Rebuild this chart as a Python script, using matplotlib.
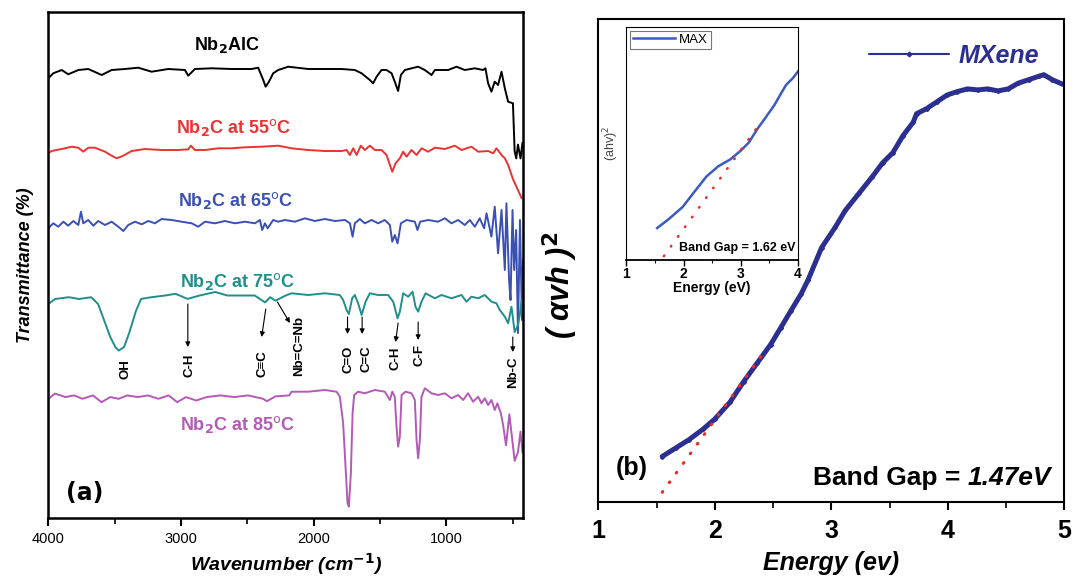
import numpy as np
import matplotlib
matplotlib.use("Agg")
import matplotlib.pyplot as plt

plt.rcParams['font.family'] = ['Liberation Sans', 'DejaVu Sans']

# ---- (a) FTIR spectra: wavenumber (cm-1) vs transmittance (arb. units, stacked) ----
wn_alc = [3999, 3962, 3898, 3849, 3773, 3698, 3597, 3522, 3422, 3322, 3221, 3096, 2970, 2945,
          2895, 2769, 2618, 2468, 2418, 2380, 2362, 2337, 2305, 2267, 2192, 2041, 1790, 1690,
          1639, 1577, 1552, 1526, 1489, 1451, 1413, 1389, 1364, 1343, 1313, 1263, 1213, 1163,
          1112, 1087, 987, 924, 862, 786, 724, 706, 686, 661, 636, 611, 585, 560, 535, 499,
          486, 474, 461, 442, 427]
t_alc = [439.7, 444.7, 448, 443.7, 448, 449, 443, 448, 449, 450.3, 446.3, 449, 448, 442.3,
         449, 449.7, 449, 449, 450.3, 438, 431.3, 436.3, 444.7, 448, 451.3, 449, 449, 448,
         444.7, 438, 434.7, 441.3, 448, 448, 444.7, 436.3, 427, 443, 448, 449.7, 451.3, 448,
         443, 448, 448, 451.3, 448, 449.7, 448, 449.7, 434.7, 426.3, 436.3, 433, 446.3, 429.7,
         416.3, 414.7, 366.5, 359.6, 373.4, 359.6, 375]

wn_55 = [4000, 3974, 3898, 3823, 3773, 3736, 3698, 3648, 3572, 3522, 3484, 3434, 3371, 3271,
         3145, 3020, 2945, 2925, 2895, 2819, 2719, 2618, 2518, 2392, 2267, 2167, 2041, 1916,
         1790, 1752, 1727, 1702, 1677, 1645, 1615, 1577, 1539, 1489, 1451, 1426, 1408, 1383,
         1351, 1326, 1300, 1263, 1225, 1187, 1138, 1087, 1012, 937, 886, 811, 761, 686, 648,
         623, 585, 560, 535, 499, 434]
t_55 = [364.7, 367, 369, 371.3, 370.3, 366.3, 370.3, 370.3, 366.3, 362.3, 359.7, 362.3, 367,
        369, 368, 368, 368.7, 372.3, 368, 368, 369.7, 369.7, 370.7, 371.3, 372.3, 369.7, 368,
        367, 367, 368, 363, 369.7, 363, 372.3, 368, 372.3, 368, 368, 363, 353, 346.3, 354.7,
        359.7, 366.3, 361.3, 368, 363, 369.7, 366.3, 370.3, 369, 372.3, 368, 371.3, 366.3,
        367, 364.7, 369.7, 363, 359.7, 353, 339, 320]

wn_65 = [4000, 3962, 3924, 3886, 3849, 3811, 3773, 3753, 3736, 3698, 3660, 3623, 3572, 3522,
         3472, 3434, 3397, 3346, 3296, 3246, 3196, 3145, 3070, 2995, 2919, 2870, 2819, 2744,
         2669, 2593, 2518, 2443, 2405, 2388, 2367, 2347, 2305, 2267, 2217, 2142, 2066, 1991,
         1916, 1840, 1765, 1727, 1707, 1690, 1652, 1615, 1564, 1514, 1464, 1426, 1408, 1389,
         1368, 1343, 1300, 1238, 1218, 1198, 1138, 1063, 1012, 962, 912, 862, 824, 786, 749,
         716, 698, 661, 636, 611, 585, 560, 548, 528, 517, 502, 490, 475, 461, 446, 431, 423]
t_65 = [289.7, 294.7, 291.3, 296.3, 292.3, 297, 293, 306.3, 294.7, 298, 292.3, 297, 293,
        296.3, 291.3, 287, 293, 296.3, 293.7, 297, 294.7, 299, 298, 296.3, 294.7, 291.3, 296.3,
        294.7, 297, 294.7, 296.3, 294.7, 298, 288, 294.7, 289.7, 298, 296.3, 298, 296.3, 299.7,
        297, 299, 297, 298, 294.7, 281.3, 294.7, 299, 294.7, 298, 294.7, 298, 293, 276.3, 283,
        274.7, 294.7, 298, 296.3, 288, 296.3, 298, 296.3, 299.7, 294.7, 298, 293, 298, 291.3,
        299.7, 289.7, 304.7, 281.3, 311.3, 264.7, 308, 248, 314.7, 238, 218, 308, 248, 288,
        185, 298, 198, 258]

wn_75 = [4000, 3948, 3844, 3767, 3676, 3624, 3585, 3533, 3494, 3468, 3429, 3391, 3339, 3300,
         3222, 3118, 3041, 2950, 2859, 2742, 2651, 2548, 2444, 2366, 2328, 2288, 2211, 2167,
         2041, 1916, 1803, 1778, 1752, 1735, 1710, 1690, 1665, 1639, 1609, 1577, 1514, 1439,
         1401, 1368, 1351, 1326, 1288, 1255, 1233, 1213, 1188, 1157, 1087, 1037, 962, 886,
         849, 811, 761, 711, 661, 623, 598, 560, 535, 510, 486, 461, 447, 434]
t_75 = [213.9, 219, 220.8, 219, 220.8, 213.9, 200, 181.2, 170.9, 167.4, 170.9, 184.6, 207,
        219.1, 220.8, 222.5, 224.2, 219.1, 222.5, 226, 222.5, 222.5, 222.5, 215.6, 220.8,
        217.3, 222.5, 224.7, 223, 224.7, 223, 218, 208, 204, 219.7, 223, 214.7, 203, 216.3,
        224.7, 223, 223, 216.3, 199.7, 206.3, 224.7, 221.3, 226.3, 211.3, 206.3, 216.3, 224.7,
        219.7, 223, 219.7, 223, 216.3, 221.3, 219.7, 223, 216.3, 214.7, 208, 201.3, 194.7,
        211.3, 186, 193, 203.6, 217.3]

wn_85 = [4000, 3948, 3870, 3806, 3741, 3663, 3598, 3533, 3468, 3404, 3326, 3248, 3170, 3093,
         3028, 2962, 2885, 2807, 2703, 2599, 2496, 2380, 2353, 2288, 2185, 2167, 2041, 1916,
         1828, 1803, 1778, 1760, 1745, 1735, 1720, 1707, 1695, 1665, 1615, 1539, 1464, 1426,
         1408, 1389, 1376, 1364, 1351, 1338, 1308, 1263, 1238, 1225, 1213, 1200, 1188, 1163,
         1112, 1063, 1012, 962, 912, 874, 837, 799, 761, 736, 711, 686, 661, 636, 616, 590,
         573, 551, 526, 486, 461, 442, 427]
t_85 = [119.2, 124.4, 120.9, 122.6, 119.2, 122.6, 115.8, 120.9, 119.2, 122.6, 120.9, 122.6,
        119.2, 122.6, 115.8, 120.9, 117.5, 120.9, 122.6, 120.9, 122.6, 119.2, 116.8, 121.6,
        122.6, 126.3, 126.3, 128, 126.3, 121.3, 94.7, 51.3, 14.7, 11.3, 44.7, 104.7, 123,
        126.3, 124.7, 128, 126.3, 118, 126.3, 121.3, 91.3, 71.3, 81.3, 123, 126.3, 124.7, 118,
        78, 59.7, 78, 121.3, 129.7, 124.7, 123, 124.7, 119.7, 123, 118, 124.7, 116.3, 121.3,
        114.7, 119.7, 113, 118, 108, 114.7, 104.7, 93, 72.7, 103.7, 57.2, 65.8, 86.5, 65.8]

series_names = ['Nb$_\\mathbf{2}$AlC', 'Nb$_\\mathbf{2}$C at 55$^{\\rm o}$C',
                'Nb$_\\mathbf{2}$C at 65$^{\\rm o}$C', 'Nb$_\\mathbf{2}$C at 75$^{\\rm o}$C',
                'Nb$_\\mathbf{2}$C at 85$^{\\rm o}$C']
series_colors = ['#000000', '#ec3232', '#3b50b4', '#1f8f8c', '#b45ab6']
name_pos = [(2654, 473), (2601, 391), (2586, 318), (2571, 237), (2571, 93)]

# band assignments on the 75 C trace: label, text position, arrow start, arrow end
band_labels = ['OH', 'C-H', 'C\u2261C', 'Nb=C=Nb', 'C=O', 'C=C', 'C-H', 'C-F', 'Nb-C']
band_text = [(3416, 149), (2932, 153), (2387, 154), (2108, 172), (1735, 159), (1600, 159),
             (1385, 160), (1200, 163), (500, 146)]
band_arrow_from = [None, (2948, 214), (2361, 209), (2273, 216), (1745, 201), (1635, 201),
                   (1364, 195), (1213, 196), (500, 181)]
band_arrow_to = [None, (2948, 171), (2392, 181), (2179, 195), (1745, 184), (1635, 184),
                 (1383, 176), (1213, 178), (500, 166)]

# ---- (b) Tauc plots ----
e_mx = [1.548, 1.664, 1.780, 1.897, 1.999, 2.130, 2.246, 2.363, 2.479, 2.567, 2.654, 2.742,
        2.800, 2.916, 3.033, 3.120, 3.237, 3.353, 3.440, 3.528, 3.615, 3.703, 3.732, 3.819,
        3.906, 3.994, 4.081, 4.169, 4.256, 4.343, 4.431, 4.518, 4.606, 4.694, 4.780, 4.824,
        4.897, 4.985]
a_mx = [45.8, 54.3, 62.8, 73, 83.2, 100.1, 120.5, 139.2, 157.8, 174.8, 191.8, 208.7, 222.3,
        254.6, 275, 291.9, 308.9, 325.8, 339.4, 349.6, 366.6, 380.1, 388.6, 393.7, 400.5,
        407.3, 410.7, 413.4, 412.4, 413.4, 411.4, 413.4, 419.2, 422.6, 426, 427.6, 422.6, 418.1]
fit_mx_e = [1.548, 2.44]
fit_mx_a = [10, 153]

e_max = [1.537, 1.744, 1.982, 2.190, 2.399, 2.606, 2.814, 2.993, 3.142, 3.291, 3.440, 3.587,
         3.706, 3.795, 3.914, 4.003]
a_max = [31.6, 40.7, 52.6, 67.9, 83.1, 93.3, 100.1, 108.6, 117.1, 130.7, 142.5, 154.4, 166.3,
         174.8, 181.6, 188.3]
fit_max_e = [1.653, 3.29]
fit_max_a = [3.4, 132.4]

fig = plt.figure(figsize=(10.72, 5.87), dpi=100)

# ================= panel (a) =================
ax1 = fig.add_axes([0.04496, 0.11755, 0.4433, 0.862])
spectra = [(wn_alc, t_alc), (wn_55, t_55), (wn_65, t_65), (wn_75, t_75), (wn_85, t_85)]
for (wx, ty), c in zip(spectra, series_colors):
    ax1.plot(wx, ty, color=c, lw=1.4)
for name, c, (px, py) in zip(series_names, series_colors, name_pos):
    ax1.text(px, py, name, color=c, fontsize=13, fontweight='bold', ha='center', va='center')
for lab, (tx, ty), a0, a1 in zip(band_labels, band_text, band_arrow_from, band_arrow_to):
    ax1.text(tx, ty, lab, rotation=90, fontsize=9.5, fontweight='bold', ha='center',
             va='center')
    if a0 is not None:
        ax1.annotate('', xy=a1, xytext=a0,
                     arrowprops=dict(arrowstyle='-|>', lw=0.8, color='black',
                                     mutation_scale=7, shrinkA=0, shrinkB=0))
ax1.text(3727, 24.5, '(a)', fontsize=17, fontweight='bold', family='DejaVu Sans',
         ha='center', va='center')
ax1.set_xlim(4000, 420)
ax1.set_ylim(0, 506)
ax1.set_xticks([4000, 3000, 2000, 1000])
ax1.set_xticks([3500, 2500, 1500, 500], minor=True)
ax1.set_yticks([])
ax1.tick_params(axis='x', which='major', direction='out', length=6, width=1.5,
                labelsize=10.5, pad=4)
ax1.tick_params(axis='x', which='minor', direction='out', length=4, width=1.2)
for s in ax1.spines.values():
    s.set_linewidth(1.8)
ax1.set_xlabel('Wavenumber (cm$^{\\mathbf{-1}}$)', fontsize=14, fontweight='bold',
               style='italic', labelpad=4)
ax1.set_ylabel('Transmittance (%)', fontsize=13, fontweight='bold', style='italic',
               labelpad=10)

# ================= panel (b) =================
ax2 = fig.add_axes([0.5582, 0.14429, 0.4346, 0.82385])
ax2.plot(e_mx, a_mx, color='#2b2f8f', lw=3.6, marker='D', ms=2, label='MXene',
         solid_capstyle='round')
ax2.plot(fit_mx_e, fit_mx_a, color='#ee2a2a', lw=2.2, linestyle=(0, (0.3, 3.6)),
         dash_capstyle='round')
ax2.set_xlim(1, 5)
ax2.set_ylim(0, 483.6)
ax2.set_xticks([1, 2, 3, 4, 5])
ax2.set_xticks([1.5, 2.5, 3.5, 4.5], minor=True)
ax2.set_yticks([])
ax2.tick_params(axis='x', which='major', direction='out', length=6, width=1.5,
                labelsize=18, pad=6)
ax2.tick_params(axis='x', which='minor', direction='out', length=4, width=1.2)
for lab in ax2.get_xticklabels():
    lab.set_fontweight('bold')
for s in ax2.spines.values():
    s.set_linewidth(1.5)
ax2.set_xlabel('Energy (ev)', fontsize=18, fontweight='bold', style='italic', labelpad=6)
fig.text(560 / 1072, 1 - 285 / 587, '( \u03b1vh )$^{\\mathbf{2}}$', rotation=90,
         fontsize=22, fontweight='bold', style='italic', ha='center', va='center')
leg2 = ax2.legend(loc='upper right', frameon=False, handlelength=3.2,
                  borderaxespad=0.6, handletextpad=0.4, markerscale=1.2,
                  prop=dict(weight='bold', style='italic', size=18))
for t in leg2.get_texts():
    t.set_color('#2b2f8f')
for h in leg2.get_lines():
    h.set_linewidth(1.5)
ax2.text(1.285, 34, '(b)', fontsize=18, fontweight='bold', ha='center', va='center')
bg_val = ax2.text(4.885, 17, '1.47eV', fontsize=19, fontweight='bold', style='italic',
                  ha='right', va='baseline')
ax2.annotate('Band Gap = ', xy=(0, 0), xycoords=bg_val, fontsize=19, fontweight='bold',
             ha='right', va='bottom')

# ================= inset =================
axi = fig.add_axes([0.58442, 0.55775, 0.15989, 0.39608])
axi.plot(e_max, a_max, color='#3a5bbf', lw=1.8, label='MAX')
axi.plot(fit_max_e, fit_max_a, color='#ee2a2a', lw=1.8, linestyle=(0, (0.3, 4.5)),
         dash_capstyle='round')
axi.set_xlim(1, 4)
axi.set_ylim(0, 232.5)
axi.set_xticks([1, 2, 3, 4])
axi.set_xticks([1.5, 2.5, 3.5], minor=True)
axi.set_yticks([])
axi.tick_params(axis='x', which='major', direction='out', length=4, width=1.0,
                labelsize=10, pad=1)
axi.tick_params(axis='x', which='minor', direction='out', length=2.5, width=0.8)
for lab in axi.get_xticklabels():
    lab.set_fontweight('bold')
for s in axi.spines.values():
    s.set_linewidth(0.8)
axi.spines['bottom'].set_linewidth(1.3)
axi.set_xlabel('Energy (eV)', fontsize=10, fontweight='bold', labelpad=0)
axi.set_ylabel('(ahv)$^{2}$', fontsize=9, color='#444444', labelpad=4)
legi = axi.legend(loc='upper left', fontsize=9.5, handlelength=3.2, borderaxespad=0.3,
                  fancybox=False, edgecolor='#555555', borderpad=0.2, handletextpad=0.3)
legi.get_frame().set_linewidth(0.8)
axi.text(0.985, 0.025, 'Band Gap = 1.62 eV', transform=axi.transAxes, fontsize=9,
         fontweight='bold', ha='right', va='bottom')

fig.savefig('out.png', dpi=100)
